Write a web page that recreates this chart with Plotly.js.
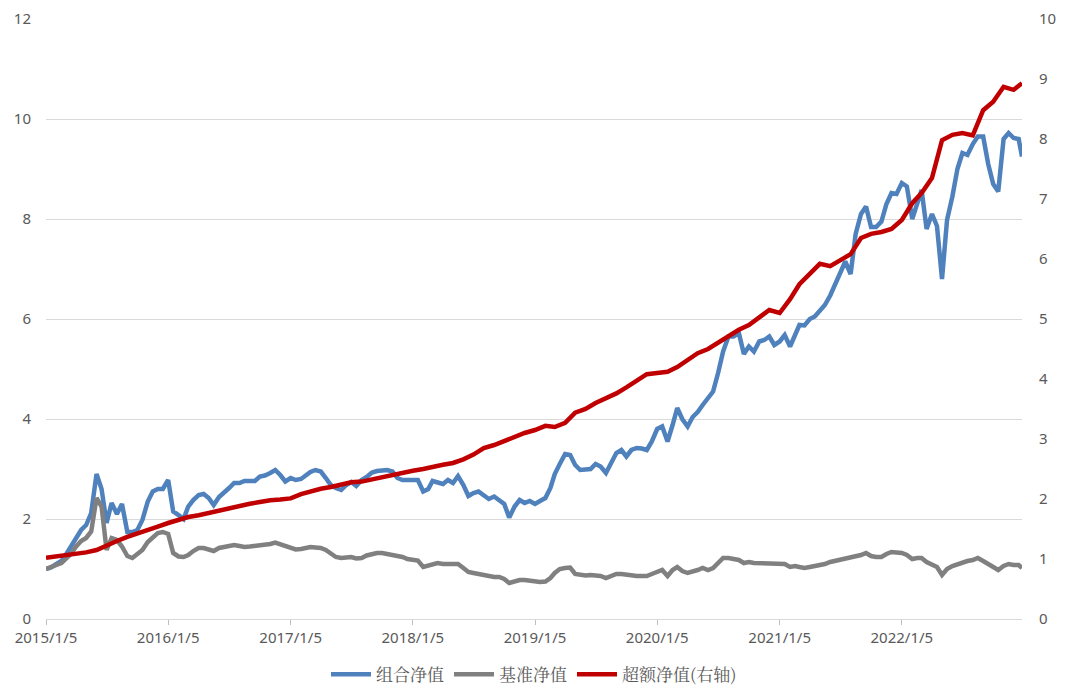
<!DOCTYPE html>
<html>
<head>
<meta charset="utf-8">
<script src="https://cdn.plot.ly/plotly-3.0.1.min.js"></script>
<style>html,body{margin:0;padding:0;background:#fff;}#chart{width:1065px;height:693px;}</style>
</head>
<body>
<div id="chart"></div>
<script>
// Semi-monthly sample dates (for 组合净值 / 基准净值)
const datesHalf = [
"2015-01-05","2015-01-20","2015-02-05","2015-02-20","2015-03-05","2015-03-20","2015-04-05","2015-04-20","2015-05-05","2015-05-20","2015-06-05","2015-06-20","2015-07-05","2015-07-20","2015-08-05","2015-08-20","2015-09-05","2015-09-20","2015-10-05","2015-10-20","2015-11-05","2015-11-20","2015-12-05","2015-12-20",
"2016-01-05","2016-01-20","2016-02-05","2016-02-20","2016-03-05","2016-03-20","2016-04-05","2016-04-20","2016-05-05","2016-05-20","2016-06-05","2016-06-20","2016-07-05","2016-07-20","2016-08-05","2016-08-20","2016-09-05","2016-09-20","2016-10-05","2016-10-20","2016-11-05","2016-11-20","2016-12-05","2016-12-20",
"2017-01-05","2017-01-20","2017-02-05","2017-02-20","2017-03-05","2017-03-20","2017-04-05","2017-04-20","2017-05-05","2017-05-20","2017-06-05","2017-06-20","2017-07-05","2017-07-20","2017-08-05","2017-08-20","2017-09-05","2017-09-20","2017-10-05","2017-10-20","2017-11-05","2017-11-20","2017-12-05","2017-12-20",
"2018-01-05","2018-01-20","2018-02-05","2018-02-20","2018-03-05","2018-03-20","2018-04-05","2018-04-20","2018-05-05","2018-05-20","2018-06-05","2018-06-20","2018-07-05","2018-07-20","2018-08-05","2018-08-20","2018-09-05","2018-09-20","2018-10-05","2018-10-20","2018-11-05","2018-11-20","2018-12-05","2018-12-20",
"2019-01-05","2019-01-20","2019-02-05","2019-02-20","2019-03-05","2019-03-20","2019-04-05","2019-04-20","2019-05-05","2019-05-20","2019-06-05","2019-06-20","2019-07-05","2019-07-20","2019-08-05","2019-08-20","2019-09-05","2019-09-20","2019-10-05","2019-10-20","2019-11-05","2019-11-20","2019-12-05","2019-12-20",
"2020-01-05","2020-01-20","2020-02-05","2020-02-20","2020-03-05","2020-03-20","2020-04-05","2020-04-20","2020-05-05","2020-05-20","2020-06-05","2020-06-20","2020-07-05","2020-07-20","2020-08-05","2020-08-20","2020-09-05","2020-09-20","2020-10-05","2020-10-20","2020-11-05","2020-11-20","2020-12-05","2020-12-20",
"2021-01-05","2021-01-20","2021-02-05","2021-02-20","2021-03-05","2021-03-20","2021-04-05","2021-04-20","2021-05-05","2021-05-20","2021-06-05","2021-06-20","2021-07-05","2021-07-20","2021-08-05","2021-08-20","2021-09-05","2021-09-20","2021-10-05","2021-10-20","2021-11-05","2021-11-20","2021-12-05","2021-12-20",
"2022-01-05","2022-01-20","2022-02-05","2022-02-20","2022-03-05","2022-03-20","2022-04-05","2022-04-20","2022-05-05","2022-05-20","2022-06-05","2022-06-20","2022-07-05","2022-07-20","2022-08-05","2022-08-20","2022-09-05","2022-09-20","2022-10-05","2022-10-20","2022-11-05","2022-11-20","2022-12-05","2022-12-20",
"2022-12-30"
];

// 组合净值 (left axis)
const portfolioNav = [
1.00,1.03,1.10,1.16,1.28,1.43,1.62,1.78,1.88,2.12,2.90,2.60,1.92,2.32,2.10,2.30,1.74,1.74,1.78,1.98,2.35,2.55,2.60,2.60,
2.78,2.15,2.08,2.00,2.25,2.38,2.48,2.50,2.42,2.28,2.44,2.52,2.62,2.72,2.72,2.76,2.76,2.76,2.85,2.87,2.92,2.98,2.88,2.75,
2.82,2.78,2.80,2.88,2.94,2.98,2.95,2.82,2.68,2.62,2.58,2.68,2.74,2.66,2.78,2.84,2.93,2.96,2.98,2.98,2.95,2.82,2.78,2.78,
2.80,2.78,2.55,2.60,2.76,2.72,2.70,2.78,2.72,2.86,2.68,2.46,2.52,2.55,2.46,2.40,2.45,2.37,2.30,2.03,2.25,2.38,2.32,2.36,
2.30,2.36,2.42,2.62,2.90,3.10,3.30,3.28,3.08,2.98,3.00,3.00,3.10,3.05,2.92,3.10,3.32,3.38,3.25,3.38,3.42,3.41,3.38,3.55,
3.80,3.85,3.55,3.88,4.22,4.00,3.85,4.04,4.14,4.28,4.42,4.55,4.92,5.35,5.65,5.65,5.72,5.30,5.45,5.35,5.55,5.58,5.65,5.48,
5.55,5.68,5.45,5.70,5.88,5.87,6.00,6.05,6.15,6.28,6.47,6.68,6.93,7.15,6.90,7.70,8.10,8.25,7.84,7.84,7.95,8.30,8.52,8.50,
8.72,8.65,8.00,8.35,8.58,7.80,8.10,7.86,6.80,7.98,8.45,9.00,9.32,9.28,9.50,9.65,9.65,9.10,8.70,8.55,9.60,9.72,9.62,9.60,
9.25
];

// 基准净值 (left axis)
const benchmarkNav = [
1.00,1.03,1.08,1.12,1.20,1.30,1.45,1.56,1.62,1.75,2.42,2.25,1.38,1.62,1.58,1.45,1.26,1.22,1.30,1.38,1.54,1.62,1.72,1.74,
1.70,1.32,1.25,1.24,1.28,1.36,1.42,1.42,1.38,1.36,1.42,1.44,1.46,1.48,1.46,1.44,1.45,1.46,1.48,1.48,1.50,1.53,1.50,1.46,
1.42,1.39,1.40,1.42,1.44,1.43,1.42,1.38,1.30,1.24,1.22,1.24,1.24,1.21,1.22,1.27,1.30,1.32,1.32,1.30,1.28,1.27,1.24,1.20,
1.18,1.17,1.04,1.06,1.10,1.12,1.10,1.10,1.10,1.10,1.02,0.94,0.92,0.90,0.87,0.86,0.84,0.84,0.80,0.72,0.76,0.78,0.78,0.76,
0.75,0.74,0.75,0.82,0.92,1.00,1.02,1.03,0.90,0.88,0.87,0.88,0.88,0.86,0.82,0.86,0.90,0.90,0.88,0.86,0.86,0.86,0.86,0.90,
0.94,0.98,0.86,0.98,1.04,0.96,0.92,0.94,0.98,1.02,0.98,1.02,1.12,1.22,1.22,1.20,1.18,1.12,1.14,1.12,1.12,1.10,1.10,1.10,
1.10,1.10,1.04,1.06,1.04,1.02,1.04,1.06,1.06,1.10,1.14,1.16,1.20,1.22,1.22,1.26,1.28,1.32,1.26,1.24,1.24,1.30,1.34,1.33,
1.32,1.28,1.20,1.22,1.22,1.14,1.10,1.04,0.88,1.00,1.06,1.10,1.14,1.16,1.18,1.22,1.16,1.10,1.02,0.98,1.06,1.10,1.08,1.08,
1.02
];

// Monthly sample dates (for 超额净值)
const datesMonth = [
"2015-01-05","2015-02-05","2015-03-05","2015-04-05","2015-05-05","2015-06-05","2015-07-05","2015-08-05","2015-09-05","2015-10-05","2015-11-05","2015-12-05",
"2016-01-05","2016-02-05","2016-03-05","2016-04-05","2016-05-05","2016-06-05","2016-07-05","2016-08-05","2016-09-05","2016-10-05","2016-11-05","2016-12-05",
"2017-01-05","2017-02-05","2017-03-05","2017-04-05","2017-05-05","2017-06-05","2017-07-05","2017-08-05","2017-09-05","2017-10-05","2017-11-05","2017-12-05",
"2018-01-05","2018-02-05","2018-03-05","2018-04-05","2018-05-05","2018-06-05","2018-07-05","2018-08-05","2018-09-05","2018-10-05","2018-11-05","2018-12-05",
"2019-01-05","2019-02-05","2019-03-05","2019-04-05","2019-05-05","2019-06-05","2019-07-05","2019-08-05","2019-09-05","2019-10-05","2019-11-05","2019-12-05",
"2020-01-05","2020-02-05","2020-03-05","2020-04-05","2020-05-05","2020-06-05","2020-07-05","2020-08-05","2020-09-05","2020-10-05","2020-11-05","2020-12-05",
"2021-01-05","2021-02-05","2021-03-05","2021-04-05","2021-05-05","2021-06-05","2021-07-05","2021-08-05","2021-09-05","2021-10-05","2021-11-05","2021-12-05",
"2022-01-05","2022-02-05","2022-03-05","2022-04-05","2022-05-05","2022-06-05","2022-07-05","2022-08-05","2022-09-05","2022-10-05","2022-11-05","2022-12-05",
"2022-12-30"
];

// 超额净值 (right axis)
const excessNav = [
1.02,1.04,1.07,1.09,1.11,1.15,1.23,1.30,1.37,1.42,1.48,1.54,
1.60,1.65,1.70,1.73,1.77,1.81,1.85,1.89,1.92,1.95,1.98,1.99,
2.01,2.08,2.13,2.17,2.20,2.24,2.28,2.29,2.33,2.36,2.39,2.43,
2.47,2.50,2.54,2.57,2.60,2.66,2.74,2.85,2.90,2.97,3.04,3.10,
3.15,3.22,3.20,3.27,3.44,3.50,3.60,3.68,3.76,3.86,3.97,4.08,
4.10,4.12,4.20,4.32,4.43,4.50,4.60,4.72,4.82,4.90,5.02,5.15,
5.10,5.33,5.58,5.75,5.92,5.88,5.97,6.08,6.35,6.42,6.45,6.50,
6.65,6.93,7.10,7.35,7.98,8.07,8.10,8.06,8.48,8.62,8.87,8.82,
8.93
];

const seriesNames = ["组合净值", "基准净值", "超额净值(右轴)"];
const xTickVals = ["2015-01-05","2016-01-05","2017-01-05","2018-01-05","2019-01-05","2020-01-05","2021-01-05","2022-01-05"];
const xTickText = ["2015/1/5","2016/1/5","2017/1/5","2018/1/5","2019/1/5","2020/1/5","2021/1/5","2022/1/5"];
const leftTicks = [0,2,4,6,8,10,12];
const rightTicks = [0,1,2,3,4,5,6,7,8,9,10];

const tickFont = {family: "Noto Sans, Open Sans, sans-serif", size: 15, color: "#595959"};

const traces = [
  {x: datesHalf, y: portfolioNav, name: seriesNames[0], type: "scatter", mode: "lines",
   line: {color: "#4f81bd", width: 4.5}, yaxis: "y"},
  {x: datesHalf, y: benchmarkNav, name: seriesNames[1], type: "scatter", mode: "lines",
   line: {color: "#808080", width: 4.5}, yaxis: "y"},
  {x: datesMonth, y: excessNav, name: seriesNames[2], type: "scatter", mode: "lines",
   line: {color: "#c00000", width: 4.5}, yaxis: "y2"}
];

const layout = {
  width: 1065, height: 693,
  margin: {l: 46, r: 43, t: 19, b: 74, autoexpand: false},
  paper_bgcolor: "#ffffff", plot_bgcolor: "#ffffff",
  showlegend: true,
  legend: {orientation: "h", x: 0.5, xanchor: "center", y: -0.093, yanchor: "middle",
           font: {family: "Noto Serif CJK SC, Noto Sans CJK SC, sans-serif", size: 17, color: "#595959"},
           itemwidth: 40, traceorder: "normal"},
  xaxis: {type: "date", range: ["2015-01-05", "2022-12-30"], tickmode: "array",
          tickvals: xTickVals, ticktext: xTickText, ticks: "outside", ticklen: 5,
          tickcolor: "#bfbfbf", showline: true, linecolor: "#d9d9d9", linewidth: 1,
          showgrid: false, zeroline: false, tickfont: tickFont, automargin: false},
  yaxis: {range: [0, 12], tickmode: "array", tickvals: leftTicks, showgrid: true,
          gridcolor: "#d9d9d9", gridwidth: 1, zeroline: false, showline: false,
          tickfont: tickFont, ticklabelstandoff: 14, automargin: false},
  yaxis2: {range: [0, 10], tickmode: "array", tickvals: rightTicks, overlaying: "y", side: "right",
           showgrid: false, zeroline: false, showline: false, tickfont: tickFont,
           ticklabelstandoff: 16, automargin: false}
};

Plotly.newPlot("chart", traces, layout, {displayModeBar: false, staticPlot: true});
</script>
</body>
</html>
